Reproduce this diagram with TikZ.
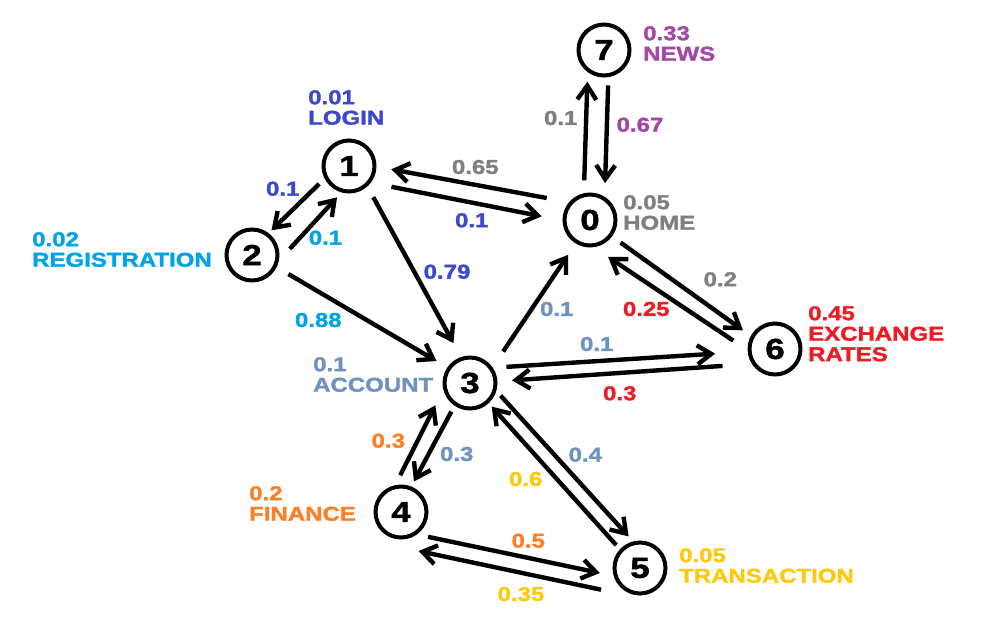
\documentclass[tikz,border=0pt]{standalone}
\usepackage{fontspec}
\newfontfamily\labfamily[FakeStretch=1.2, BoldFeatures={FakeBold=1.6}]{Liberation Sans}
\usetikzlibrary{arrows.meta,calc}

\definecolor{home}{RGB}{127,127,127}
\definecolor{login}{RGB}{63,72,204}
\definecolor{regist}{RGB}{0,162,232}
\definecolor{account}{RGB}{112,146,190}
\definecolor{finance}{RGB}{255,127,39}
\definecolor{transact}{RGB}{255,201,14}
\definecolor{rates}{RGB}{237,28,36}
\definecolor{news}{RGB}{163,73,164}

\begin{document}
\begin{tikzpicture}[
    x=1pt, y=-1pt,
    state/.style={circle, draw, line width=4pt, minimum size=51pt, inner sep=0pt,
        font=\labfamily\bfseries\fontsize{29}{29}\selectfont},
    arc/.style={line width=4.4pt, -{Straight Barb[length=14pt,width=19pt]}},
    lab/.style={inner sep=0pt, font=\labfamily\bfseries\fontsize{20}{20.5}\selectfont},
    info/.style={lab, align=left, anchor=north west}
]
    \useasboundingbox (0,0) rectangle (987,625);

    % states
    \node[state] (n0) at (590,220) {0};
    \node[state] (n1) at (349,166) {1};
    \node[state] (n2) at (252,255) {2};
    \node[state] (n3) at (470,383) {3};
    \node[state] (n4) at (401,512) {4};
    \node[state] (n5) at (640,568) {5};
    \node[state] (n6) at (775,349) {6};
    \node[state] (n7) at (604,50) {7};

    % page names
    \node[info, text=home] (i0) at (623,195) {0.05\\HOME};
    \node[info, text=login] (i1) at (308,90) {0.01\\LOGIN};
    \node[info, text=regist] (i2) at (32,232) {0.02\\REGISTRATION};
    \node[info, text=account] (i3) at (313,357) {0.1\\ACCOUNT};
    \node[info, text=finance] (i4) at (249,486) {0.2\\FINANCE};
    \node[info, text=transact] (i5) at (679,548) {0.05\\TRANSACTION};
    \node[info, text=rates] (i6) at (808,306) {0.45\\EXCHANGE\\RATES};
    \node[info, text=news] (i7) at (643,26) {0.33\\NEWS};

    % transitions
    \draw[arc] ($(n1)!46pt!(n0)!11pt!-90:(n0)$) -- ($(n0)!48pt!(n1)!7pt!90:(n1)$);
    \draw[arc] ($(n0)!47pt!(n1)!12pt!-90:(n1)$) -- ($(n1)!42pt!(n0)!6pt!90:(n0)$);
    \draw[arc] ($(n1)!34pt!(n2)!7pt!-90:(n2)$) -- ($(n2)!31pt!(n1)!5pt!90:(n1)$);
    \draw[arc] ($(n2)!32pt!(n1)!21pt!-90:(n1)$) -- ($(n1)!30pt!(n2)!15pt!90:(n2)$);
    \draw[arc] ($(n1)!39pt!(n3)!6pt!90:(n3)$) -- ($(n3)!43pt!(n1)!5pt!-90:(n1)$);
    \draw[arc] ($(n2)!41pt!(n3)!2pt!90:(n3)$) -- ($(n3)!40pt!(n2)!2pt!-90:(n2)$);
    \draw[arc] ($(n3)!45pt!(n0)!8pt!-90:(n0)$) -- ($(n0)!41pt!(n3)!3pt!90:(n3)$);
    \draw[arc] ($(n0)!38pt!(n6)!1pt!-90:(n6)$) -- ($(n6)!37pt!(n0)!3pt!90:(n0)$);
    \draw[arc] ($(n6)!39pt!(n0)!17pt!90:(n0)$) -- ($(n0)!36pt!(n6)!20pt!-90:(n6)$);
    \draw[arc] ($(n3)!38pt!(n6)!12pt!90:(n6)$) -- ($(n6)!60pt!(n3)!2pt!-90:(n3)$);
    \draw[arc] ($(n6)!54pt!(n3)!11pt!90:(n3)$) -- ($(n3)!42pt!(n6)!2pt!-90:(n6)$);
    \draw[arc] ($(n0)!39pt!(n7)!9pt!90:(n7)$) -- ($(n7)!33pt!(n0)!14pt!-90:(n0)$);
    \draw[arc] ($(n7)!35pt!(n0)!7pt!90:(n0)$) -- ($(n0)!38pt!(n7)!12pt!-90:(n7)$);
    \draw[arc] ($(n4)!32pt!(n3)!18pt!90:(n3)$) -- ($(n3)!36pt!(n4)!20pt!-90:(n4)$);
    \draw[arc] ($(n3)!34pt!(n4)!3pt!-90:(n4)$) -- ($(n4)!33pt!(n3)!3pt!90:(n3)$);
    \draw[arc] ($(n3)!30pt!(n5)!14pt!90:(n5)$) -- ($(n5)!31pt!(n3)!13pt!-90:(n3)$);
    \draw[arc] ($(n5)!33pt!(n3)!2pt!90:(n3)$) -- ($(n3)!32pt!(n5)!0pt!-90:(n5)$);
    \draw[arc] ($(n4)!32pt!(n5)!18pt!-90:(n5)$) -- ($(n5)!38pt!(n4)!14pt!90:(n4)$);
    \draw[arc] ($(n5)!33pt!(n4)!30pt!90:(n4)$) -- ($(n4)!26pt!(n5)!34pt!-90:(n5)$);

    % probabilities
    \node[lab, text=login] (l10) at (471.7,220.3) {0.1};
    \node[lab, text=home] (l01) at (475.3,167) {0.65};
    \node[lab, text=login] (l12) at (282.7,188.7) {0.1};
    \node[lab, text=regist] (l21) at (325.5,237.7) {0.1};
    \node[lab, text=login] (l13) at (447,271.7) {0.79};
    \node[lab, text=regist] (l23) at (318.3,320) {0.88};
    \node[lab, text=account] (l30) at (556.7,309) {0.1};
    \node[lab, text=rates] (l60) at (646.3,309) {0.25};
    \node[lab, text=home] (l06) at (720.3,279.3) {0.2};
    \node[lab, text=account] (l36) at (596.7,344) {0.1};
    \node[lab, text=rates] (l63) at (619.7,393.3) {0.3};
    \node[lab, text=home] (l07) at (560.7,118) {0.1};
    \node[lab, text=news] (l70) at (640,124.7) {0.67};
    \node[lab, text=finance] (l43) at (388.3,440.7) {0.3};
    \node[lab, text=account] (l34) at (456.7,454) {0.3};
    \node[lab, text=account] (l35) at (585.3,454.7) {0.4};
    \node[lab, text=transact] (l53) at (525.7,479) {0.6};
    \node[lab, text=finance] (l45) at (528.3,540.7) {0.5};
    \node[lab, text=transact] (l54) at (521,594) {0.35};
\end{tikzpicture}
\end{document}
